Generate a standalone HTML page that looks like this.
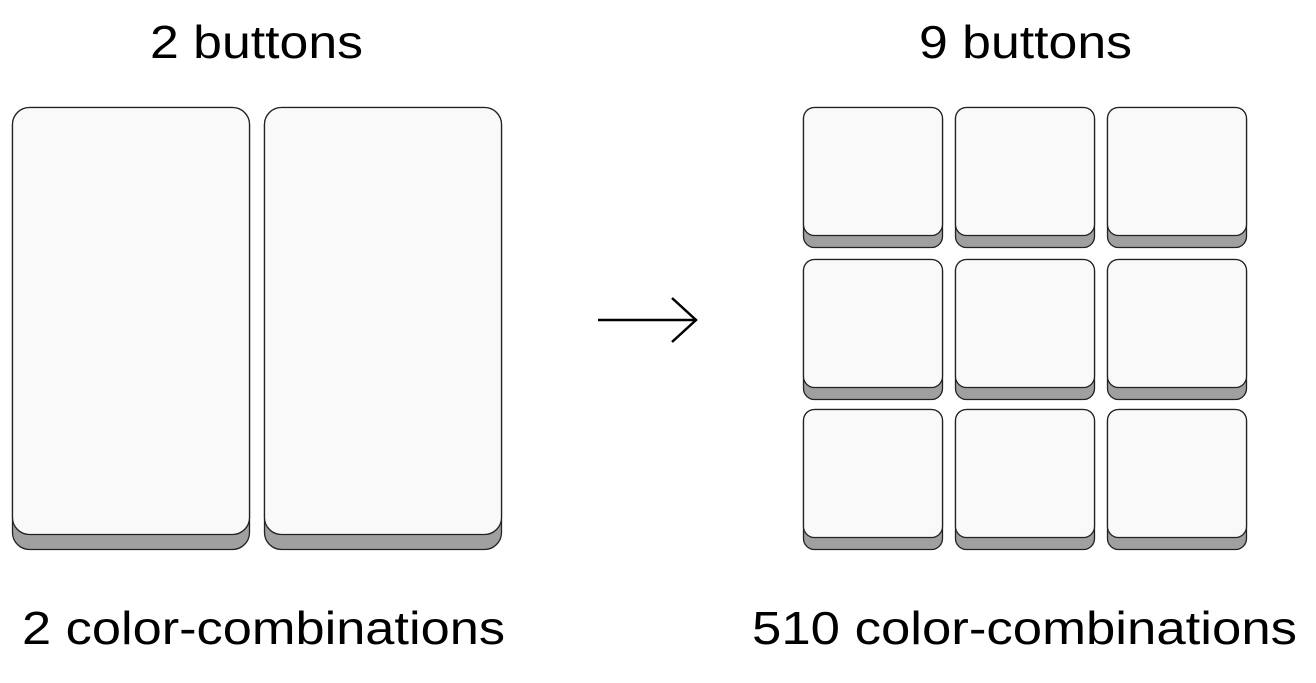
<!DOCTYPE html>
<html><head><meta charset="utf-8"><style>
html,body{margin:0;padding:0;background:#fff;width:1316px;height:683px;overflow:hidden}
svg text{font-family:"Liberation Sans",sans-serif;font-size:46px;fill:#000}
</style></head><body>
<svg width="1316" height="683" viewBox="0 0 1316 683">
<text x="150" y="58" textLength="213" lengthAdjust="spacingAndGlyphs">2 buttons</text>
<text x="919" y="58" textLength="213" lengthAdjust="spacingAndGlyphs">9 buttons</text>
<text x="22" y="644" textLength="483" lengthAdjust="spacingAndGlyphs">2 color-combinations</text>
<text x="752" y="644" textLength="545" lengthAdjust="spacingAndGlyphs">510 color-combinations</text>
<g stroke="#000" stroke-width="2.5" fill="none">
<line x1="598" y1="320" x2="695" y2="320"/>
<polyline points="672,298 696,320 672,342"/>
</g>
<g id="btns"></g>
</svg>
<script>
const g=document.getElementById('btns');
const NS='http://www.w3.org/2000/svg';
function btn(x,y,w,h,r,d,name){
  const grp=document.createElementNS(NS,'g');
  
  
  const b=document.createElementNS(NS,'rect');
  b.setAttribute('x',x);b.setAttribute('y',y);b.setAttribute('width',w);b.setAttribute('height',h);
  b.setAttribute('rx',r);b.setAttribute('fill','#a0a0a0');b.setAttribute('stroke','#222');b.setAttribute('stroke-width','1.3');
  const f=document.createElementNS(NS,'rect');
  f.setAttribute('x',x);f.setAttribute('y',y);f.setAttribute('width',w);f.setAttribute('height',h-d);
  f.setAttribute('rx',r);f.setAttribute('fill','#f9f9f9');f.setAttribute('stroke','#222');f.setAttribute('stroke-width','1.3');
  grp.appendChild(b);grp.appendChild(f);g.appendChild(grp);
}
btn(12.5,107.5,237,442,17,15,'big-button-1');
btn(264.5,107.5,237,442,17,15,'big-button-2');
const cols=[803.5,955.5,1107.5], rows=[107.5,259.5,409.5];
let k=1;
for(const y of rows) for(const x of cols){btn(x,y,139,140,11,12,'small-button-'+k);k++;}
</script>
</body></html>
